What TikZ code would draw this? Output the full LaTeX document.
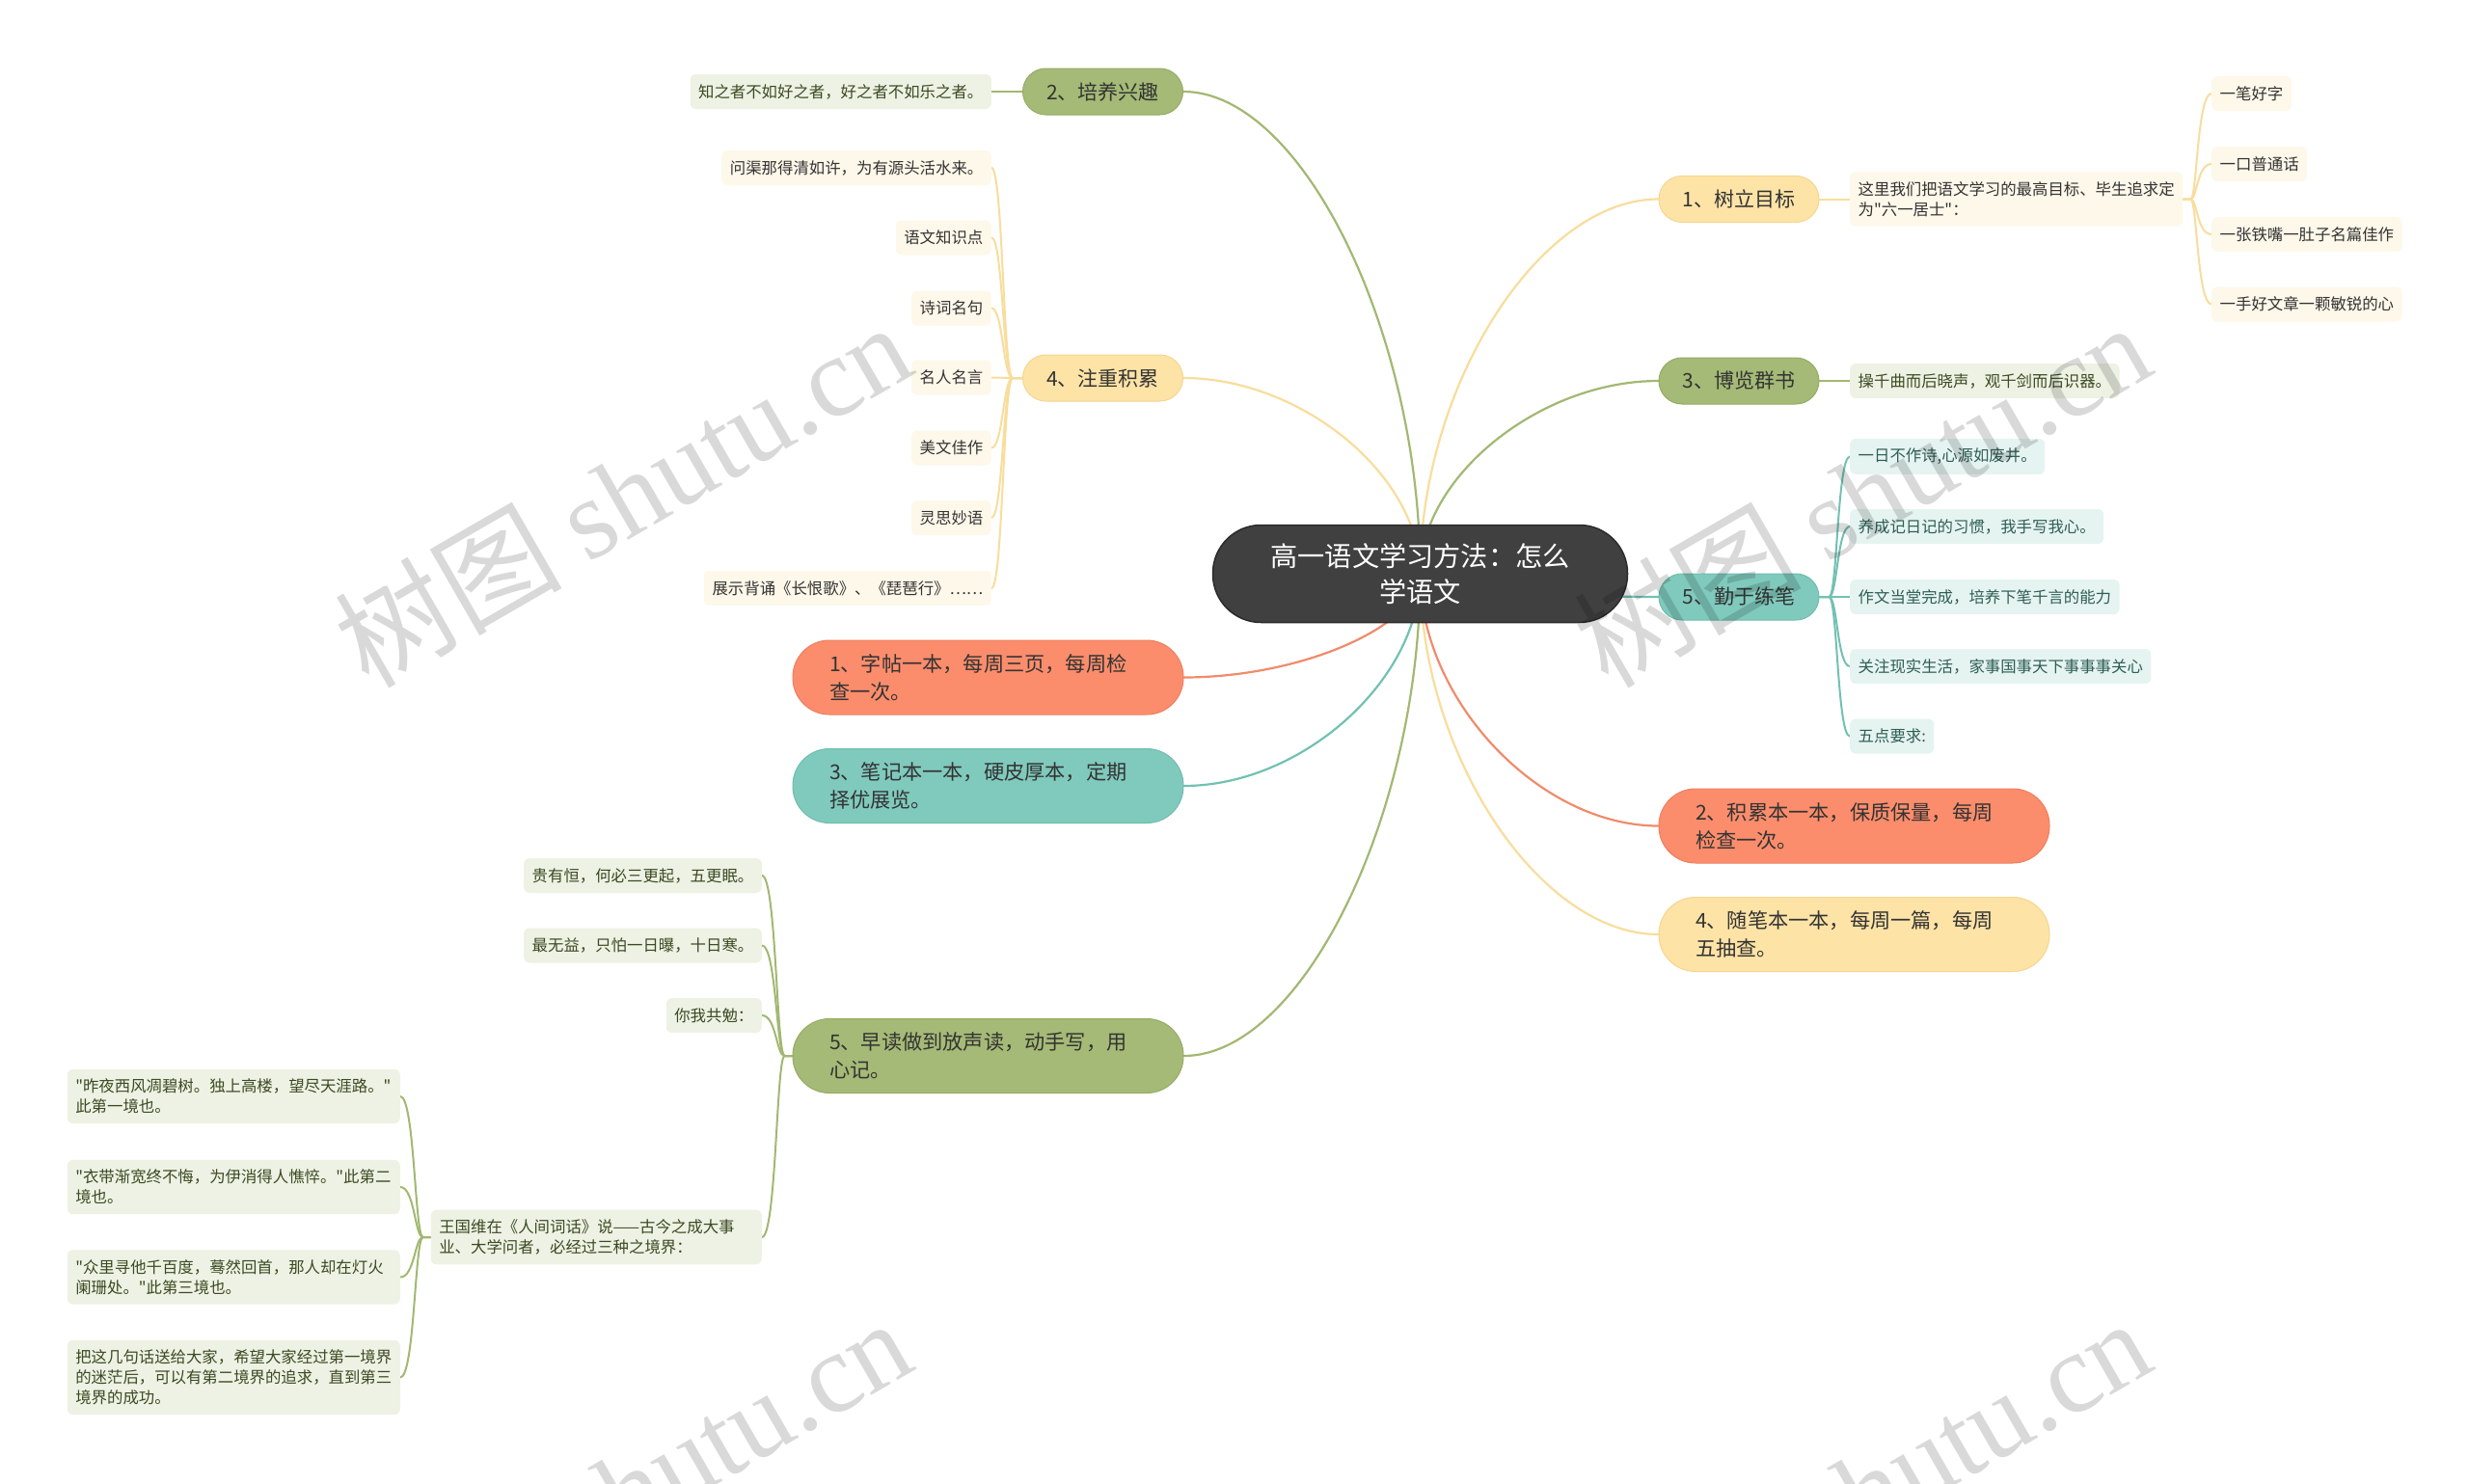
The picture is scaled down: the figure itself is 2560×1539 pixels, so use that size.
\documentclass[tikz,border=0pt]{standalone}
\usepackage{fontspec}
\setmainfont{Noto Sans CJK SC}[Ligatures=TeXOff]
\newfontfamily\wmserif{Liberation Serif}
\usetikzlibrary{calc}
\pgfdeclarelayer{bg}\pgfdeclarelayer{fg}\pgfsetlayers{bg,main,fg}
\definecolor{rootfill}{HTML}{404040}
\definecolor{rootdraw}{HTML}{2B2B2B}
\definecolor{gfill}{HTML}{A5BA76}
\definecolor{gdraw}{HTML}{96AC66}
\definecolor{gline}{HTML}{A2B872}
\definecolor{gleaf}{HTML}{EEF2E4}
\definecolor{gtext}{HTML}{3A4A22}
\definecolor{yfill}{HTML}{FDE3A6}
\definecolor{ydraw}{HTML}{F5D690}
\definecolor{yline}{HTML}{F8DD9C}
\definecolor{yleaf}{HTML}{FEF8EA}
\definecolor{sfill}{HTML}{FB8D6C}
\definecolor{sdraw}{HTML}{EF7F5E}
\definecolor{sline}{HTML}{F08B6B}
\definecolor{tfill}{HTML}{80CABD}
\definecolor{tdraw}{HTML}{6EBDAE}
\definecolor{tline}{HTML}{72C1B2}
\definecolor{tleaf}{HTML}{E6F4F1}
\definecolor{ttext}{HTML}{2E5E55}
\definecolor{darktext}{HTML}{333333}
\tikzset{
  rootbox/.style={fill=rootfill, draw=rootdraw, line width=1.5pt, rounded corners=50pt,
    minimum width=430pt, minimum height=101pt, text=white, align=center,
    font=\fontsize{28.2}{37}\selectfont, inner sep=0pt},
  pill/.style={rounded corners=24pt, minimum width=166pt, minimum height=48pt, inner sep=0pt,
    text=darktext, font=\fontsize{21}{28}\selectfont, line width=1pt},
  bigpill/.style={rounded corners=38pt, minimum height=77pt, inner xsep=38pt, inner ysep=0pt,
    text width=329pt, align=left, text=darktext, font=\fontsize{21.2}{29}\selectfont, line width=1pt},
  leaf/.style={rounded corners=6pt, inner xsep=8.5pt, inner ysep=10pt, minimum height=36pt,
    align=left, font=\fontsize{16.4}{21}\selectfont},
  wide/.style={text width=328pt},
  gnode/.style={fill=gfill, draw=gdraw},
  ynode/.style={fill=yfill, draw=ydraw},
  snode/.style={fill=sfill, draw=sdraw},
  tnode/.style={fill=tfill, draw=tdraw},
  gleafs/.style={leaf, fill=gleaf, text=gtext},
  yleafs/.style={leaf, fill=yleaf, text=darktext},
  tleafs/.style={leaf, fill=tleaf, text=ttext},
  mainline/.style={line width=2.2pt, line cap=round},
  kidline/.style={line width=2pt, line cap=round},
  mm/.style={to path={.. controls ($(\tikztostart)!0.5!(\tikztostart|-\tikztotarget)$) and ($(\tikztotarget)!0.5!(\tikztostart|-\tikztotarget)$) .. (\tikztotarget)}},
  kidL/.style 2 args={to path={let \p1=(\tikztostart), \p2=(\tikztotarget) in -- (\x1-#1,\y1) .. controls (\x2+#2,\y1) and (\x2+#2,\y2) .. (\tikztotarget)}},
  kidR/.style 2 args={to path={let \p1=(\tikztostart), \p2=(\tikztotarget) in -- (\x1+#1,\y1) .. controls (\x2-#2,\y1) and (\x2-#2,\y2) .. (\tikztotarget)}},
  wm/.style={text=black, text opacity=0.15, inner sep=0pt, font=\fontsize{118}{118}\selectfont}
}
\begin{document}
\begin{tikzpicture}[x=1pt,y=-1pt]
\useasboundingbox (0,0) rectangle (2560,1539);
\begin{pgfonlayer}{bg}
\fill[white] (0,0) rectangle (2560,1539);
\end{pgfonlayer}

% root
\node[rootbox] (root) at (1472.5,595) {高一语文学习方法：怎么\\学语文};

% left branches
\node[pill,gnode] (b2) at (1143.5,95) {2、培养兴趣};
\node[gleafs,anchor=east] (b2a) at (1028,95) {知之者不如好之者，好之者不如乐之者。};

\node[pill,ynode] (b4) at (1143.5,392) {4、注重积累};
\node[yleafs,anchor=east] (a1) at (1028,174) {问渠那得清如许，为有源头活水来。};
\node[yleafs,anchor=east] (a2) at (1028,246.5) {语文知识点};
\node[yleafs,anchor=east] (a3) at (1028,319.5) {诗词名句};
\node[yleafs,anchor=east] (a4) at (1028,391.5) {名人名言};
\node[yleafs,anchor=east] (a5) at (1028,464.5) {美文佳作};
\node[yleafs,anchor=east] (a6) at (1028,537) {灵思妙语};
\node[yleafs,anchor=east] (a7) at (1028,610) {展示背诵《长恨歌》、《琵琶行》……};

\node[bigpill,snode] (b1) at (1024.5,702.5) {1、字帖一本，每周三页，每周检\\查一次。};
\node[bigpill,tnode] (b3) at (1024.5,815) {3、笔记本一本，硬皮厚本，定期\\择优展览。};
\node[bigpill,gnode] (b5) at (1024.5,1095) {5、早读做到放声读，动手写，用\\心记。};

\node[gleafs,anchor=east] (c1) at (790,908) {贵有恒，何必三更起，五更眠。};
\node[gleafs,anchor=east] (c2) at (790,980.5) {最无益，只怕一日曝，十日寒。};
\node[gleafs,anchor=east] (c3) at (790,1053) {你我共勉：};
\node[gleafs,anchor=east,text width=326pt] (c4) at (790,1283) {王国维在《人间词话》说——古今之成大事\\业、大学问者，必经过三种之境界：};

\node[gleafs,anchor=east,wide] (d1) at (415,1137) {"昨夜西风凋碧树。独上高楼，望尽天涯路。"\\此第一境也。};
\node[gleafs,anchor=east,wide] (d2) at (415,1231) {"衣带渐宽终不悔，为伊消得人憔悴。"此第二\\境也。};
\node[gleafs,anchor=east,wide] (d3) at (415,1324.5) {"众里寻他千百度，蓦然回首，那人却在灯火\\阑珊处。"此第三境也。};
\node[gleafs,anchor=east,wide] (d4) at (415,1428.5) {把这几句话送给大家，希望大家经过第一境界\\的迷茫后，可以有第二境界的追求，直到第三\\境界的成功。};

% right branches
\node[pill,ynode] (r1) at (1803,206.5) {1、树立目标};
\node[yleafs,anchor=west,wide] (r1a) at (1918,206.5) {这里我们把语文学习的最高目标、毕生追求定\\为"六一居士"：};
\node[yleafs,anchor=west] (e1) at (2293,97) {一笔好字};
\node[yleafs,anchor=west] (e2) at (2293,170) {一口普通话};
\node[yleafs,anchor=west] (e3) at (2293,243) {一张铁嘴一肚子名篇佳作};
\node[yleafs,anchor=west] (e4) at (2293,315.5) {一手好文章一颗敏锐的心};

\node[pill,gnode] (r3) at (1803,395) {3、博览群书};
\node[gleafs,anchor=west] (r3a) at (1918,395) {操千曲而后晓声，观千剑而后识器。};

\node[pill,tnode] (r5) at (1803,619) {5、勤于练笔};
\node[tleafs,anchor=west] (f1) at (1918,473.5) {一日不作诗,心源如废井。};
\node[tleafs,anchor=west] (f2) at (1918,546) {养成记日记的习惯，我手写我心。};
\node[tleafs,anchor=west] (f3) at (1918,619) {作文当堂完成，培养下笔千言的能力};
\node[tleafs,anchor=west] (f4) at (1918,691) {关注现实生活，家事国事天下事事事关心};
\node[tleafs,anchor=west] (f5) at (1918,763.5) {五点要求:};

\node[bigpill,snode] (r2) at (1922.5,856.5) {2、积累本一本，保质保量，每周\\检查一次。};
\node[bigpill,ynode] (r4) at (1922.5,969) {4、随笔本一本，每周一篇，每周\\五抽查。};

% connectors
\begin{pgfonlayer}{bg}
\draw[mainline,gline] (root.center) to[mm] (b2.east);
\draw[mainline,yline] (root.center) to[mm] (b4.east);
\draw[mainline,sline] (root.center) to[mm] (b1.east);
\draw[mainline,tline] (root.center) to[mm] (b3.east);
\draw[mainline,gline] (root.center) to[mm] (b5.east);
\draw[mainline,yline] (root.center) to[mm] (r1.west);
\draw[mainline,gline] (root.center) to[mm] (r3.west);
\draw[mainline,tline] (root.center) to[mm] (r5.west);
\draw[mainline,sline] (root.center) to[mm] (r2.west);
\draw[mainline,yline] (root.center) to[mm] (r4.west);

\draw[kidline,gline] (b2.west) -- (b2a.east);
\foreach \k in {a1,a2,a3,a4,a5,a6,a7}
  \draw[kidline,yline] (b4.west) to[kidL={10}{12}] (\k.east);
\foreach \k in {c1,c2,c3,c4}
  \draw[kidline,gline] (b5.west) to[kidL={8}{15}] (\k.east);
\foreach \k in {d1,d2,d3,d4}
  \draw[kidline,gline] (c4.west) to[kidL={8}{15}] (\k.east);

\draw[kidline,yline] (r1.east) -- (r1a.west);
\foreach \k in {e1,e2,e3,e4}
  \draw[kidline,yline] (r1a.east) to[kidR={8}{15}] (\k.west);
\draw[kidline,gline] (r3.east) -- (r3a.west);
\foreach \k in {f1,f2,f3,f4,f5}
  \draw[kidline,tline] (r5.east) to[kidR={10}{13}] (\k.west);
\end{pgfonlayer}

% watermarks
\begin{pgfonlayer}{fg}
\begin{scope}
\clip (0,0) rectangle (2560,1539);
\node[wm,rotate=30] (w1) at (645,512) {树图 {\wmserif shutu.cn}};
\node[wm,rotate=30] (w2) at (1930,512) {树图 {\wmserif shutu.cn}};
\node[wm,rotate=30] (w3) at (645,1545) {树图 {\wmserif shutu.cn}};
\node[wm,rotate=30] (w4) at (1930,1545) {树图 {\wmserif shutu.cn}};
\end{scope}
\end{pgfonlayer}
\end{tikzpicture}
\end{document}
